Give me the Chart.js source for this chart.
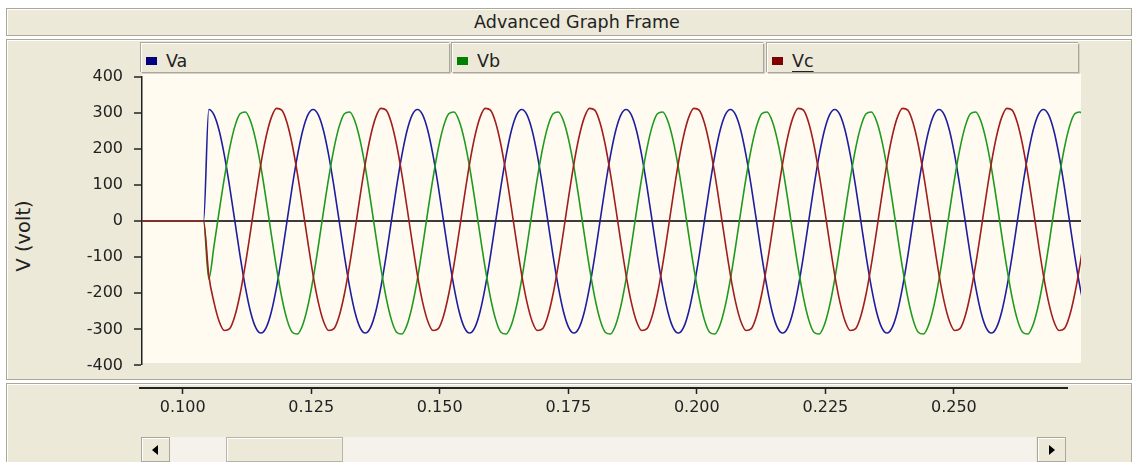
<!DOCTYPE html>
<html lang="en">
<head>
<meta charset="UTF-8">
<title>Advanced Graph Frame</title>
<script src="https://cdn.jsdelivr.net/npm/chart.js"></script>
<style>
    body { margin: 0; width: 1138px; height: 462px; overflow: hidden; position: relative; background: #fff; font-family: "DejaVu Sans", sans-serif; color: #222; }
    .panel { position: absolute; background: #ECE9D8; border: 1px solid #ACA899; box-shadow: inset 1px 1px 0 #fff; box-sizing: border-box; }
    #titlebar { left: 6px; top: 8px; width: 1126px; height: 28px; padding-left: 16px; text-align: center; font-size: 17.5px; line-height: 27px; }
    #mainpanel { left: 6px; top: 39px; width: 1126px; height: 341px; }
    #bottompanel { left: 6px; top: 383px; width: 1126px; height: 85px; }
    #plotbg { position: absolute; left: 142px; top: 73px; width: 939px; height: 290px; background: #FFFBF0; }
    .legendbox { position: absolute; top: 43px; height: 30px; background: #ECE9D8; border: 1px solid #fff; border-right-color: #ACA899; border-bottom-color: #ACA899; box-shadow: 1px 1px 0 #D4D0C8, -1px -1px 0 #ACA899; box-sizing: border-box; font-size: 17.5px; line-height: 28px; }
    .legendbox .mark { position: absolute; left: 4px; top: 13px; width: 11px; height: 8px; }
    .legendbox .name { position: absolute; left: 24px; top: 3px; }
    .legendbox .sel { text-decoration: underline; text-underline-offset: 4px; }
    #ylabel { position: absolute; left: 23px; top: 236px; transform: translate(-50%, -50%) rotate(-90deg); font-size: 19.5px; white-space: nowrap; }
    #mainchart { position: absolute; left: 0; top: 0; width: 1138px; height: 386px; }
    #axischart { position: absolute; left: 0; top: 380px; width: 1138px; height: 50px; }
    .sbtn { position: absolute; top: 437px; width: 29px; height: 25px; background: #ECE9D8; border: 1px solid #ACA899; box-shadow: inset 1px 1px 0 #fff; box-sizing: border-box; }
    .sbtn span { position: absolute; top: 7px; width: 0; height: 0; border-top: 5px solid transparent; border-bottom: 5px solid transparent; }
    #track { position: absolute; left: 170px; top: 437px; width: 866px; height: 25px; background: #F4F2EA; }
    #thumb { position: absolute; left: 226px; top: 437px; width: 117px; height: 25px; background: #ECE9D8; border: 1px solid #B9B5A6; box-shadow: inset 1px 1px 0 #fff; box-sizing: border-box; }
</style>
</head>
<body>
    <div id="titlebar" class="panel">Advanced Graph Frame</div>
    <div id="mainpanel" class="panel"></div>
    <div id="bottompanel" class="panel"></div>
    <div id="plotbg"></div>
    <div id="legend"></div>
    <div id="ylabel">V (volt)</div>

    <div id="track"></div>
    <div id="thumb"></div>
    <div class="sbtn" style="left:141px"><span style="left:10px; border-right:6px solid #000"></span></div>
    <div class="sbtn" style="left:1037px"><span style="left:11px; border-left:6px solid #000"></span></div>

    <div id="mainchart"><canvas id="voltChart"></canvas></div>
    <div id="axischart"><canvas id="timeAxis"></canvas></div>

<script>
    // series names and colours
    const seriesNames = ['Va', 'Vb', 'Vc'];
    const lineColors = ['#1e1ea0', '#1e9a1e', '#a01e1e'];
    const markColors = ['#000080', '#008000', '#800000'];

    // breaker closed at ~0.104 s, everything is zero before
    const preTimes = [0.090, 0.104];
    const preValues = [0, 0];

    // samples every 1 ms from 0.105 s (volts)
    const sampleStart = 0.105;
    const sampleStep = 0.001;

    const va = [
        310, 295, 251, 182, 96, 0, -96, -182, -251, -295, -310, -295, -251, -182, -96, 0, 96, 182, 251, 295,
        310, 295, 251, 182, 96, 0, -96, -182, -251, -295, -310, -295, -251, -182, -96, 0, 96, 182, 251, 295,
        310, 295, 251, 182, 96, 0, -96, -182, -251, -295, -310, -295, -251, -182, -96, 0, 96, 182, 251, 295,
        310, 295, 251, 182, 96, 0, -96, -182, -251, -295, -310, -295, -251, -182, -96, 0, 96, 182, 251, 295,
        310, 295, 251, 182, 96, 0, -96, -182, -251, -295, -310, -295, -251, -182, -96, 0, 96, 182, 251, 295,
        310, 295, 251, 182, 96, 0, -96, -182, -251, -295, -310, -295, -251, -182, -96, 0, 96, 182, 251, 295,
        310, 295, 251, 182, 96, 0, -96, -182, -251, -295, -310, -295, -251, -182, -96, 0, 96, 182, 251, 295,
        310, 295, 251, 182, 96, 0, -96, -182, -251, -295, -310, -295, -251, -182, -96, 0, 96, 182, 251, 295,
        310, 295, 251, 182, 96, 0, -96, -182, -251
    ];
    const vb = [
        -160, -69, 28, 121, 202, 263, 298, 303, 278, 225, 150, 59, -38, -131, -212, -273, -308, -313, -288, -235,
        -160, -69, 28, 121, 202, 263, 298, 303, 278, 225, 150, 59, -38, -131, -212, -273, -308, -313, -288, -235,
        -160, -69, 28, 121, 202, 263, 298, 303, 278, 225, 150, 59, -38, -131, -212, -273, -308, -313, -288, -235,
        -160, -69, 28, 121, 202, 263, 298, 303, 278, 225, 150, 59, -38, -131, -212, -273, -308, -313, -288, -235,
        -160, -69, 28, 121, 202, 263, 298, 303, 278, 225, 150, 59, -38, -131, -212, -273, -308, -313, -288, -235,
        -160, -69, 28, 121, 202, 263, 298, 303, 278, 225, 150, 59, -38, -131, -212, -273, -308, -313, -288, -235,
        -160, -69, 28, 121, 202, 263, 298, 303, 278, 225, 150, 59, -38, -131, -212, -273, -308, -313, -288, -235,
        -160, -69, 28, 121, 202, 263, 298, 303, 278, 225, 150, 59, -38, -131, -212, -273, -308, -313, -288, -235,
        -160, -69, 28, 121, 202, 263, 298, 303, 278
    ];
    const vc = [
        -150, -225, -278, -303, -298, -263, -202, -121, -28, 69, 160, 235, 288, 313, 308, 273, 212, 131, 38, -59,
        -150, -225, -278, -303, -298, -263, -202, -121, -28, 69, 160, 235, 288, 313, 308, 273, 212, 131, 38, -59,
        -150, -225, -278, -303, -298, -263, -202, -121, -28, 69, 160, 235, 288, 313, 308, 273, 212, 131, 38, -59,
        -150, -225, -278, -303, -298, -263, -202, -121, -28, 69, 160, 235, 288, 313, 308, 273, 212, 131, 38, -59,
        -150, -225, -278, -303, -298, -263, -202, -121, -28, 69, 160, 235, 288, 313, 308, 273, 212, 131, 38, -59,
        -150, -225, -278, -303, -298, -263, -202, -121, -28, 69, 160, 235, 288, 313, 308, 273, 212, 131, 38, -59,
        -150, -225, -278, -303, -298, -263, -202, -121, -28, 69, 160, 235, 288, 313, 308, 273, 212, 131, 38, -59,
        -150, -225, -278, -303, -298, -263, -202, -121, -28, 69, 160, 235, 288, 313, 308, 273, 212, 131, 38, -59,
        -150, -225, -278, -303, -298, -263, -202, -121, -28
    ];

    // visible window of the plot, and of the time axis strip below it
    const plotMin = 0.0922, plotMax = 0.2722;
    const axisMin = 0.0917, axisMax = 0.2720;
    const yTickMin = -400, yTickMax = 400, yStep = 100;
    const xStep = 0.025;

    const font = { family: 'DejaVu Sans', size: 16 };

    function toPoints(values) {
        const pts = preTimes.map((t, i) => ({ x: t, y: preValues[i] }));
        values.forEach((v, i) => pts.push({ x: sampleStart + i * sampleStep, y: v }));
        return pts;
    }

    // legend boxes
    const legendPos = [[141, 309], [452, 312], [767, 312]];
    const legend = document.getElementById('legend');
    seriesNames.forEach((name, i) => {
        const box = document.createElement('div');
        box.className = 'legendbox';
        box.style.left = legendPos[i][0] + 'px';
        box.style.width = legendPos[i][1] + 'px';
        box.innerHTML = `<div class="mark" style="background:${markColors[i]}"></div>` +
            `<div class="name${i === 2 ? ' sel' : ''}">${name}</div>`;
        legend.appendChild(box);
    });

    const allSeries = [va, vb, vc];

    new Chart(document.getElementById('voltChart'), {
        type: 'line',
        data: {
            datasets: allSeries.map((vals, i) => ({
                label: seriesNames[i],
                data: toPoints(vals),
                borderColor: lineColors[i],
                borderWidth: 1.6,
                pointRadius: 0,
                cubicInterpolationMode: 'monotone',
                order: 2 - i
            }))
        },
        options: {
            responsive: true,
            maintainAspectRatio: false,
            animation: false,
            layout: { padding: { left: 0, right: 57, top: 77, bottom: 10 } },
            plugins: { legend: { display: false }, tooltip: { enabled: false } },
            scales: {
                x: { type: 'linear', min: plotMin, max: plotMax, display: false },
                y: {
                    min: yTickMin,
                    max: yTickMax,
                    afterFit: scale => { scale.width = 142; },
                    ticks: { stepSize: yStep, color: '#222', font: font, padding: 11 },
                    grid: {
                        color: c => c.tick && c.tick.value === 0 ? '#3c3c3c' : 'rgba(0,0,0,0)',
                        lineWidth: c => c.tick && c.tick.value === 0 ? 2 : 0,
                        tickColor: '#222',
                        tickWidth: 1.5,
                        tickLength: 8
                    },
                    border: { display: true, color: '#222', width: 1.5 }
                }
            }
        }
    });

    // time axis lives in its own strip under the plot
    new Chart(document.getElementById('timeAxis'), {
        type: 'line',
        data: { datasets: [{ data: [], pointRadius: 0 }] },
        options: {
            responsive: true,
            maintainAspectRatio: false,
            animation: false,
            layout: { padding: { left: 140, right: 71, top: 0, bottom: 0 } },
            plugins: { legend: { display: false }, tooltip: { enabled: false } },
            scales: {
                x: {
                    type: 'linear',
                    min: axisMin,
                    max: axisMax,
                    afterFit: scale => { scale.height = 42; },
                    ticks: {
                        stepSize: xStep,
                        includeBounds: false,
                        autoSkip: false,
                        maxRotation: 0,
                        color: '#222',
                        font: font,
                        padding: 4,
                        callback: v => Number(v).toFixed(3)
                    },
                    grid: { drawOnChartArea: false, tickColor: '#222', tickWidth: 1.5, tickLength: 6 },
                    border: { display: true, color: '#222', width: 2 }
                },
                y: { display: false, min: 0, max: 1 }
            }
        }
    });
</script>
</body>
</html>
